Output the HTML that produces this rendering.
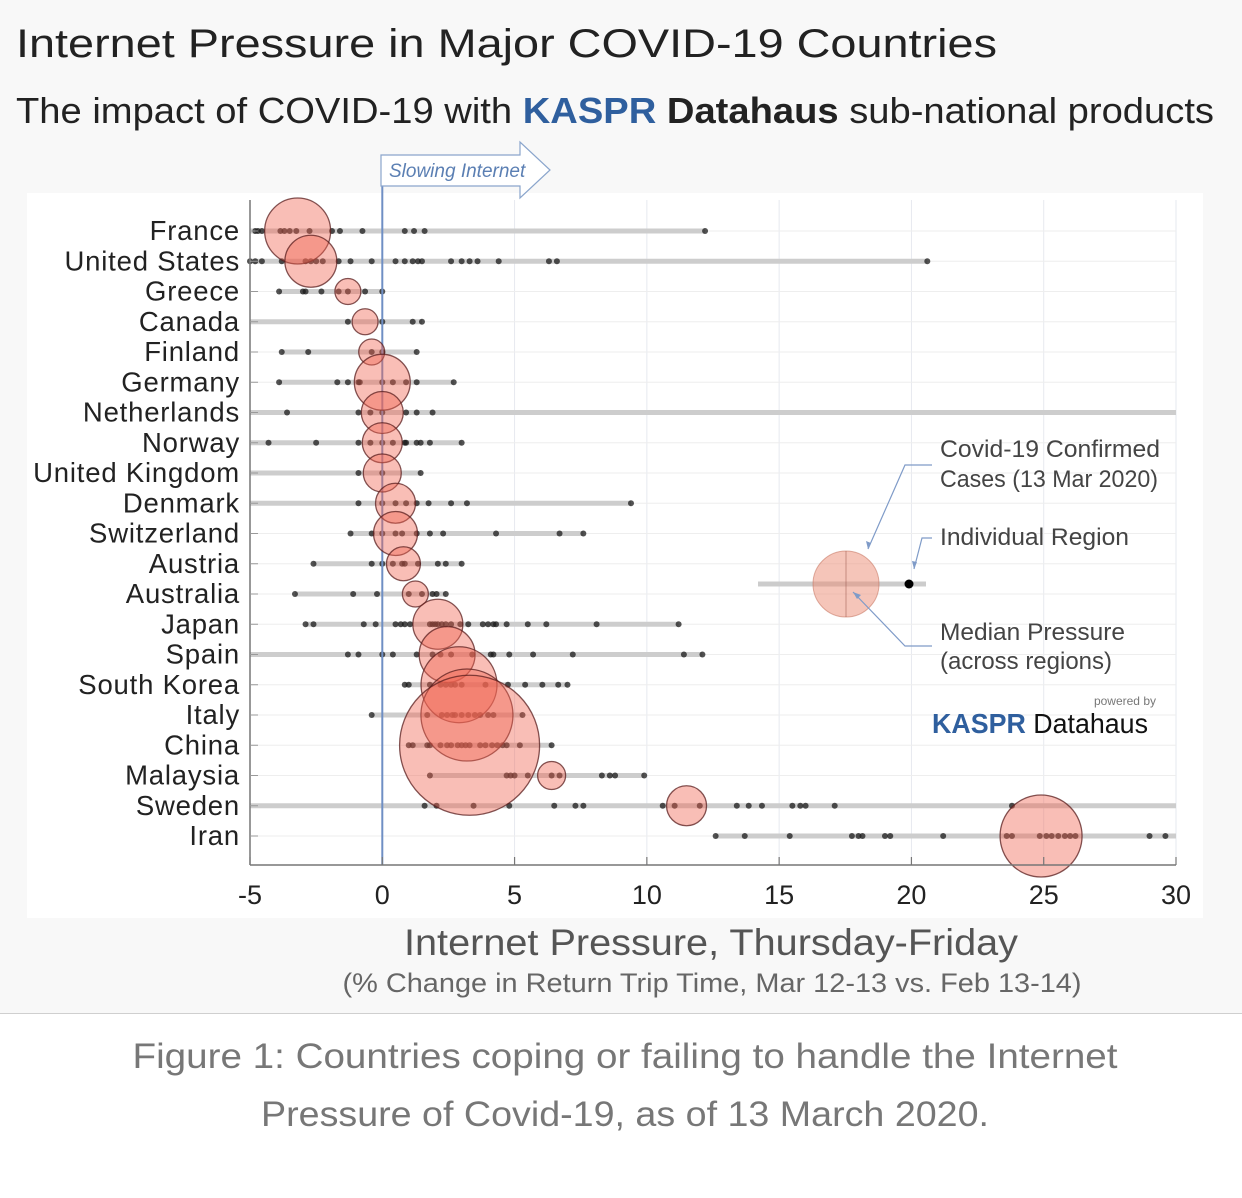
<!DOCTYPE html>
<html><head><meta charset="utf-8"><style>
html,body{margin:0;padding:0;background:#fff;}
svg{display:block;font-family:"Liberation Sans",sans-serif;}
</style></head><body>
<svg id="chart" width="1242" height="1198" viewBox="0 0 1242 1198">
<rect x="0" y="0" width="1242" height="1013" fill="#f8f8f8"/>
<line x1="0" y1="1013.5" x2="1242" y2="1013.5" stroke="#cfcfcf"/>
<text x="16" y="57" font-size="40" fill="#222" textLength="981" lengthAdjust="spacingAndGlyphs">Internet Pressure in Major COVID-19 Countries</text>
<text x="16" y="123" font-size="36" fill="#222" textLength="1198" lengthAdjust="spacingAndGlyphs">The impact of COVID-19 with <tspan fill="#2f5f9e" font-weight="bold">KASPR</tspan> <tspan font-weight="bold" fill="#222">Datahaus</tspan> sub-national products</text>
<rect x="27" y="193" width="1176" height="725" fill="#fff"/>
<g id="grid"></g>
<g id="rows"></g>
<line x1="382.3" y1="172" x2="382.3" y2="865" stroke="#6f8fc4" stroke-width="2"/>
<g id="marks"></g>
<line x1="250" y1="200" x2="250" y2="865" stroke="#777" stroke-width="1.5"/>
<line x1="250" y1="865" x2="1176" y2="865" stroke="#777" stroke-width="1.5"/>
<g id="labels"></g>
<g>
<path d="M381,155 H520 V142 L550,170 L520,198 V186 H381 Z" fill="#fff" stroke="#8aa5cc" stroke-width="1.2"/>
<text x="389" y="177" font-size="19" font-style="italic" fill="#5b7fb3">Slowing Internet</text>
</g>
<text x="711" y="955" font-size="37" fill="#555" text-anchor="middle" textLength="614" lengthAdjust="spacingAndGlyphs">Internet Pressure, Thursday-Friday</text>
<text x="712" y="992" font-size="27" fill="#666" text-anchor="middle" textLength="739" lengthAdjust="spacingAndGlyphs">(% Change in Return Trip Time, Mar 12-13 vs. Feb 13-14)</text>
<g>
<line x1="758" y1="584" x2="926" y2="584" stroke="#ccc" stroke-width="5"/>
<circle cx="846" cy="584" r="33" fill="rgba(235,140,115,0.5)" stroke="rgba(200,120,100,0.6)"/>
<line x1="846" y1="551" x2="846" y2="617" stroke="rgba(150,80,70,0.5)"/>
<circle cx="909" cy="584" r="4.5" fill="#000"/>
<polyline points="932,465 905,465 868,549" fill="none" stroke="#7f9bc8" stroke-width="1.2"/>
<path d="M868,549 l-2,-8 l5,2 z" fill="#7f9bc8"/>
<polyline points="932,538 922,538 914,569" fill="none" stroke="#7f9bc8" stroke-width="1.2"/>
<path d="M914,569 l-2,-8 l5,1 z" fill="#7f9bc8"/>
<polyline points="932,646 905,646 853,592" fill="none" stroke="#7f9bc8" stroke-width="1.2"/>
<path d="M853,592 l8,3 l-4,4 z" fill="#7f9bc8"/>
<text x="940" y="457" font-size="24" fill="#444" textLength="220" lengthAdjust="spacingAndGlyphs">Covid-19 Confirmed</text>
<text x="940" y="487" font-size="24" fill="#444" textLength="218" lengthAdjust="spacingAndGlyphs">Cases (13 Mar 2020)</text>
<text x="940" y="545" font-size="24" fill="#444" textLength="189" lengthAdjust="spacingAndGlyphs">Individual Region</text>
<text x="940" y="640" font-size="24" fill="#444" textLength="185" lengthAdjust="spacingAndGlyphs">Median Pressure</text>
<text x="940" y="669" font-size="24" fill="#444" textLength="172" lengthAdjust="spacingAndGlyphs">(across regions)</text>
<text x="1156" y="705" font-size="12" fill="#777" text-anchor="end">powered by</text>
<text x="932" y="733" font-size="28" fill="#111" textLength="216" lengthAdjust="spacingAndGlyphs"><tspan fill="#2f5f9e" font-weight="bold">KASPR</tspan> Datahaus</text>
</g>
<text x="625" y="1068" font-size="35" fill="#777" text-anchor="middle" textLength="985" lengthAdjust="spacingAndGlyphs">Figure 1: Countries coping or failing to handle the Internet</text>
<text x="625" y="1126" font-size="35" fill="#777" text-anchor="middle" textLength="728" lengthAdjust="spacingAndGlyphs">Pressure of Covid-19, as of 13 March 2020.</text>
</svg>
<script>
const countries=["France","United States","Greece","Canada","Finland","Germany","Netherlands","Norway","United Kingdom","Denmark","Switzerland","Austria","Australia","Japan","Spain","South Korea","Italy","China","Malaysia","Sweden","Iran"];
const medians=[-3.2,-2.7,-1.3,-0.65,-0.4,0,0,0,0,0.5,0.5,0.8,1.25,2.1,2.45,2.9,3.2,3.3,6.4,11.5,24.9];
const cases=[17400,10800,2700,2700,2700,12500,7050,6400,5780,6400,7740,4620,2700,10000,12500,23100,33900,78400,3140,6400,26900];
const rangeMin=[-5,-5,-3.9,-5,-3.8,-3.9,-5,-5,-5,-5,-1.2,-2.6,-3.3,-2.9,-5,0.85,-0.4,1.0,1.8,-5,12.6];
const rangeMax=[12.2,20.6,0,1.5,1.3,2.7,30,3.0,1.45,9.4,7.6,3,2.4,11.2,12.1,7.0,5.3,6.4,9.9,30,30];
const regions=[
[-4.8,-4.7,-4.55,-3.85,-3.7,-3.5,-3.25,-2.75,-1.9,-1.6,-0.75,0.85,1.2,1.6,12.2],
[-5,-4.8,-4.55,-3.8,-2.9,-2.7,-2.5,-2.25,-1.65,-1.2,-0.4,0.5,0.85,1.15,1.35,1.5,2.6,3.0,3.3,3.6,4.4,6.3,6.6,20.6],
[-3.9,-3,-2.9,-2.3,-1.65,-1.3,-0.65,0],
[-1.3,0,1.15,1.5],
[-3.8,-2.8,-0.4,0,1.3],
[-3.9,-1.7,-1.3,-0.9,-0.85,0,0.4,0.9,1.3,2.7],
[-3.6,-0.9,-0.45,0,0.9,1.3,1.9],
[-4.3,-2.5,-0.9,-0.45,0,0.4,0.85,0.9,1.3,1.45,1.8,3.0],
[-0.9,0,1.45],
[-0.9,0,0.5,0.9,1.3,1.75,2.6,3.2,9.4],
[-1.2,-0.4,0,0.5,0.75,1.3,1.8,2.3,4.3,6.7,7.6],
[-2.6,-0.4,0,0.4,0.75,0.85,1.35,2.1,2.4,3],
[-3.3,-1.1,-0.2,1,1.5,1.9,2.05,2.4],
[-2.9,-2.6,-0.7,-0.25,0.5,0.7,0.85,1.05,1.8,1.9,2.0,2.1,2.25,2.4,2.6,2.95,3.25,3.8,4.0,4.2,4.3,4.7,5.5,6.2,8.1,11.2],
[-1.3,-0.9,0,0.4,1.3,1.9,2.2,2.6,3.4,4.1,4.2,4.8,5.7,7.2,11.4,12.1],
[0.85,1.0,1.8,2.2,2.4,2.6,2.75,3.0,3.9,4.75,5.4,6.05,6.65,7.0],
[-0.4,1.7,2.25,2.45,2.65,2.75,3.0,3.25,3.5,3.7,4.0,4.2,5.3],
[1.0,1.15,1.7,1.8,2.2,2.45,2.6,2.85,3.0,3.15,3.3,3.7,3.9,4.15,4.35,4.55,4.7,5.2,6.4],
[1.8,4.7,4.85,5.0,5.5,6.4,6.7,8.3,8.6,8.8,9.9],
[1.6,2.05,3.45,4.8,6.5,7.3,7.6,10.6,11.05,12.0,13.4,13.85,14.35,15.5,15.8,16.0,17.1,23.8],
[12.6,13.7,15.4,17.75,18.0,18.15,19.0,19.2,21.2,23.6,23.8,24.85,25.1,25.3,25.55,25.8,26.0,26.2,29.0,29.6]
];
const xTicks=[-5,0,5,10,15,20,25,30];
const xTickLabels=["-5","0","5","10","15","20","25","30"];

const NS="http://www.w3.org/2000/svg";
const X0=250,X1=1176,XMIN=-5,XMAX=30;
function xScale(v){return X0+(v-XMIN)/(XMAX-XMIN)*(X1-X0);}
function yScale(i){return 231+i*30.25;}
function rScale(c){return 0.25*Math.sqrt(c);}
function mk(tag,attrs,parent){const e=document.createElementNS(NS,tag);for(const k in attrs)e.setAttribute(k,attrs[k]);parent.appendChild(e);return e;}
const grid=document.getElementById('grid'),rows=document.getElementById('rows'),marks=document.getElementById('marks'),labels=document.getElementById('labels');
xTicks.forEach((t,i)=>{
  const g=mk('line',{x1:xScale(t),x2:xScale(t),y1:200,y2:865,stroke:'#e6e9ef','stroke-width':1},grid);
  
  
  const tk=mk('line',{x1:xScale(t),x2:xScale(t),y1:857,y2:865,stroke:'#777','stroke-width':1.2},labels);
  
  
  const tl=mk('text',{x:xScale(t),y:904,'font-size':27,fill:'#222','text-anchor':'middle'},labels);
  tl.textContent=xTickLabels[i];
  
  
});
countries.forEach((c,i)=>{
  const y=yScale(i);
  const gl=mk('line',{x1:250,x2:1176,y1:y,y2:y,stroke:'#eeeeee','stroke-width':1},grid);
  
  
  const yt=mk('line',{x1:250,x2:258,y1:y,y2:y,stroke:'#999','stroke-width':1},labels);
  
  
  const bar=mk('line',{x1:xScale(rangeMin[i]),x2:xScale(rangeMax[i]),y1:y,y2:y,stroke:'#cdcdcd','stroke-width':5},rows);
  
  
  regions[i].forEach(v=>{
    const d=mk('circle',{cx:xScale(v),cy:y,r:3,fill:'rgba(25,25,25,0.75)'},rows);
    
    
  });
  const lab=mk('text',{x:240,y:y+9,'font-size':27.5,fill:'#222','text-anchor':'end','letter-spacing':0.8},labels);
  lab.textContent=c;
  
  
});
countries.forEach((c,i)=>{
  const b=mk('circle',{cx:xScale(medians[i]),cy:yScale(i),r:rScale(cases[i]),fill:'rgba(240,100,80,0.42)',stroke:'rgba(90,30,30,0.75)','stroke-width':1.3},marks);
  
  
});
</script>
</body></html>
